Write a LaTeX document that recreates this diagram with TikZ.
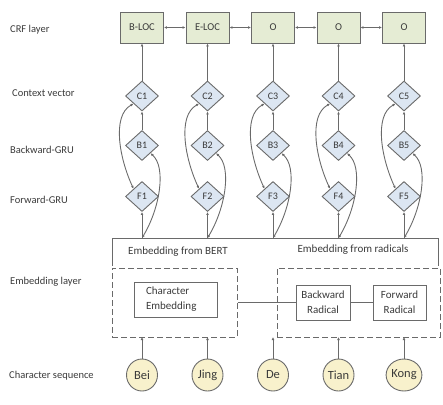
\documentclass[tikz,border=0pt]{standalone}
\usepackage{fontspec}
\setmainfont{Carlito}
\usetikzlibrary{shapes.geometric,arrows.meta}
\definecolor{crfg}{HTML}{E5ECD4}
\definecolor{diab}{HTML}{DCE6F2}
\definecolor{ciry}{HTML}{F8F1CC}
\definecolor{edge}{HTML}{6A6A6A}
\definecolor{txt}{HTML}{3A3A3A}
\begin{document}
\begin{tikzpicture}[x=1pt,y=-1pt,
  every node/.style={text=txt},
  tip/.tip={Latex[length=3pt,width=2.8pt]},
  line/.style={draw=edge,line width=0.9pt},
  arr/.style={line,-tip},
  darr/.style={line,tip-tip},
  lbl/.style={anchor=west,font=\fontsize{10.5}{12}\selectfont,inner sep=0pt},
  crf/.style={draw=edge,line width=0.9pt,fill=crfg,minimum width=43pt,minimum height=31pt,inner sep=1pt,font=\fontsize{10.5}{12}\selectfont},
  dia/.style={diamond,draw=edge,line width=0.9pt,fill=diab,minimum width=33pt,minimum height=30pt,inner sep=0pt,font=\fontsize{10}{12}\selectfont},
  chr/.style={ellipse,draw=edge,line width=0.9pt,fill=ciry,minimum width=31pt,minimum height=32pt,inner sep=0pt,font=\fontsize{12.5}{14}\selectfont},
  ebox/.style={draw=edge,line width=0.9pt,minimum height=35pt,inner sep=1pt,align=center,font=\fontsize{11}{15}\selectfont},
  dbox/.style={draw=edge,line width=1pt,dash pattern=on 6pt off 3pt,inner sep=0pt}
]
\useasboundingbox (0,0) rectangle (443,404);

% left labels
\node[lbl] (l1) at (10,30) {CRF layer};
\node[lbl] (l2) at (12,93) {Context vector};
\node[lbl] (l3) at (10,150) {Backward-GRU};
\node[lbl] (l4) at (10,200) {Forward-GRU};
\node[lbl] (l5) at (10,282) {Embedding layer};
\node[lbl] (l6) at (9,376) {Character sequence};

% embedding frame
\coordinate (ftl) at (112,238);
\coordinate (ftr) at (438,238);
\coordinate (fbl) at (112,266);
\coordinate (fbr) at (438,266);
\draw[line] (fbl) -- (ftl) -- (ftr) -- (fbr);
\node[font=\fontsize{11}{13}\selectfont,inner sep=0pt] (tbert) at (178,252) {Embedding from BERT};
\node[font=\fontsize{11}{13}\selectfont,inner sep=0pt] (trad) at (353,250) {Embedding from radicals};

% dashed boxes
\node[dbox,minimum width=125pt,minimum height=69pt] (ldash) at (174.5,302.5) {};
\node[dbox,minimum width=163pt,minimum height=69pt] (rdash) at (358.5,302.5) {};
\node[ebox,minimum width=83pt,text width=59pt,inner xsep=12pt,align=left] (cemb) at (175.5,299.5) {Character\\Embedding};
\node[ebox,minimum width=54pt] (brad) at (323,302.5) {Backward\\Radical};
\node[ebox,minimum width=53pt] (frad) at (399.5,302.5) {Forward\\Radical};
\draw[line] (ldash.east) -- (brad.west);
\draw[line] (brad.east) -- (frad.west);

% columns
\foreach \i/\x/\t/\c in {1/142/B-LOC/Bei,2/207.5/E-LOC/Jing,3/273/O/De,4/338.5/O/Tian,5/404/O/Kong}{
  \node[crf] (r\i) at (\x,27.5) {\t};
  \node[dia] (c\i) at (\x,96) {C\i};
  \node[dia] (b\i) at (\x,145.5) {B\i};
  \node[dia] (f\i) at (\x,196.5) {F\i};
  \node[chr] (s\i) at (\x,375) {\c};
  \coordinate (e\i) at (\x,238);
  \coordinate (d\i) at (\x,337);
  \draw[arr] (c\i.north) -- (r\i.south);
  \draw[arr] (b\i.north) -- (c\i.south);
  \draw[arr] (e\i) -- (f\i.south);
  \draw[arr] (s\i.north) -- (d\i);
  \draw[darr] (c\i.south west) .. controls +(-22,12) and +(-14,-30) .. (f\i.north west);
  \draw[darr] (b\i.south east) .. controls +(16,14) and +(18,-30) .. (e\i);
}
\foreach \i/\j in {1/2,2/3,3/4,4/5}{
  \draw[darr] (r\i.east) -- (r\j.west);
}
\end{tikzpicture}
\end{document}
